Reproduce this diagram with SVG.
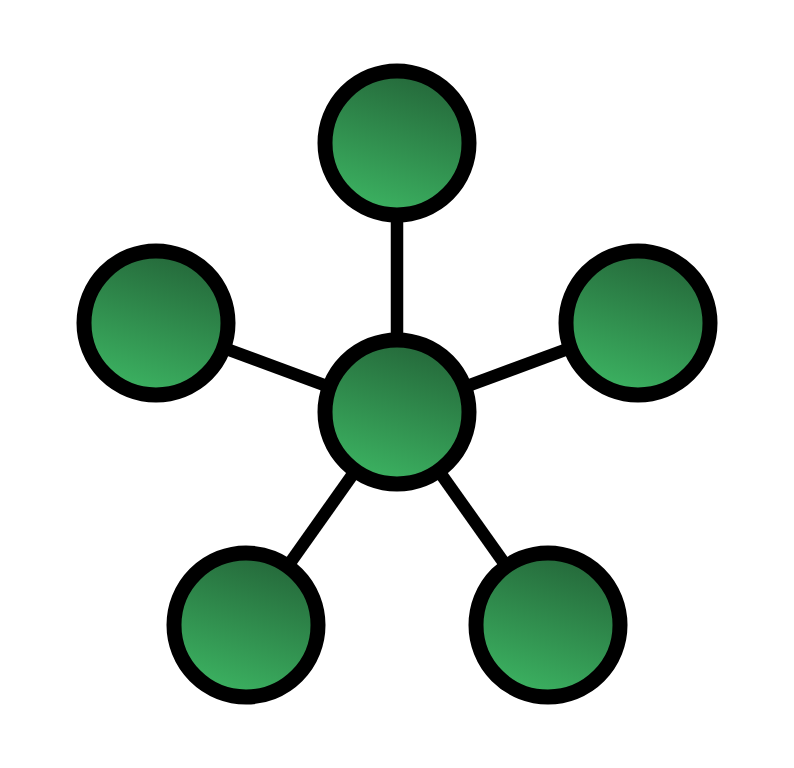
<svg xmlns="http://www.w3.org/2000/svg" width="794" height="768" viewBox="0 0 794 768">
<defs>
<linearGradient id="g" x1="0.35" y1="0.95" x2="0.65" y2="0.05">
<stop offset="0" stop-color="#3bb060"/>
<stop offset="1" stop-color="#256a3b"/>
</linearGradient>
<style>
.n{fill:url(#g);stroke:#000;stroke-width:15}
.e{stroke:#000;stroke-width:12.5;fill:none}
</style>
</defs>
<rect width="794" height="768" fill="#fff"/>
<g id="connectors">
<line class="e" x1="397" y1="412" x2="397" y2="143"/>
<line class="e" x1="397" y1="412" x2="156" y2="323"/>
<line class="e" x1="397" y1="412" x2="638" y2="323"/>
<line class="e" x1="397" y1="412" x2="246" y2="625"/>
<line class="e" x1="397" y1="412" x2="548" y2="625"/>
</g>
<g id="node-top"><circle class="n" cx="397" cy="143" r="72"/></g>
<g id="node-left"><circle class="n" cx="156" cy="323" r="72"/></g>
<g id="node-right"><circle class="n" cx="638" cy="323" r="72"/></g>
<g id="node-bottom-left"><circle class="n" cx="246" cy="625" r="72"/></g>
<g id="node-bottom-right"><circle class="n" cx="548" cy="625" r="72"/></g>
<g id="node-center"><circle class="n" cx="397" cy="412" r="72"/></g>
</svg>
